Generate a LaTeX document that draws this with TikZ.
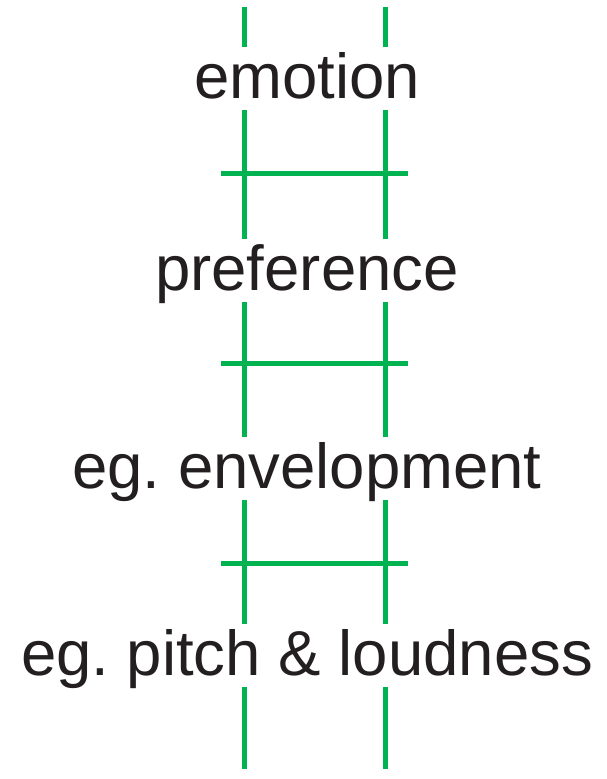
\documentclass[tikz,border=0pt]{standalone}
\usepackage{fontspec}
\setmainfont{Liberation Sans}
\usetikzlibrary{matrix}
\definecolor{ladder}{RGB}{0,178,80}
\definecolor{ink}{RGB}{35,31,32}
\frenchspacing

\begin{document}
\begin{tikzpicture}[x=1pt,y=-1pt]
  \tikzset{rail/.style={draw=ladder, line width=5pt}}
  \useasboundingbox (0,0) rectangle (607,779);
  \matrix (m) [matrix of nodes, anchor=north, inner sep=0pt, row sep=124pt,
    nodes={inner sep=0pt, text height=51pt, text depth=12pt, text=ink,
      font=\fontsize{63.5}{70}\selectfont}] at (307,47)
  {
 emotion \\[5pt]
 preference \\[11pt]
 eg. envelopment \\
 eg. pitch \& loudness \\
};
  % the two rails, broken by the labels
  \foreach \x/\s in {244/L,385/R}{
    \coordinate (\s-top) at (\x,7);
    \coordinate (\s-bot) at (\x,769);
    \draw[rail] (\s-top) -- (m-1-1.north -| \s-top)
      (m-1-1.south -| \s-top) -- (m-2-1.north -| \s-top)
      (m-2-1.south -| \s-top) -- (m-3-1.north -| \s-top)
      (m-3-1.south -| \s-top) -- (m-4-1.north -| \s-top)
      (m-4-1.south -| \s-top) -- (\s-bot);
  }
  % rungs
  \foreach \y in {173,363,563}
    \draw[rail] (221,\y) -- (408,\y);
\end{tikzpicture}
\end{document}
